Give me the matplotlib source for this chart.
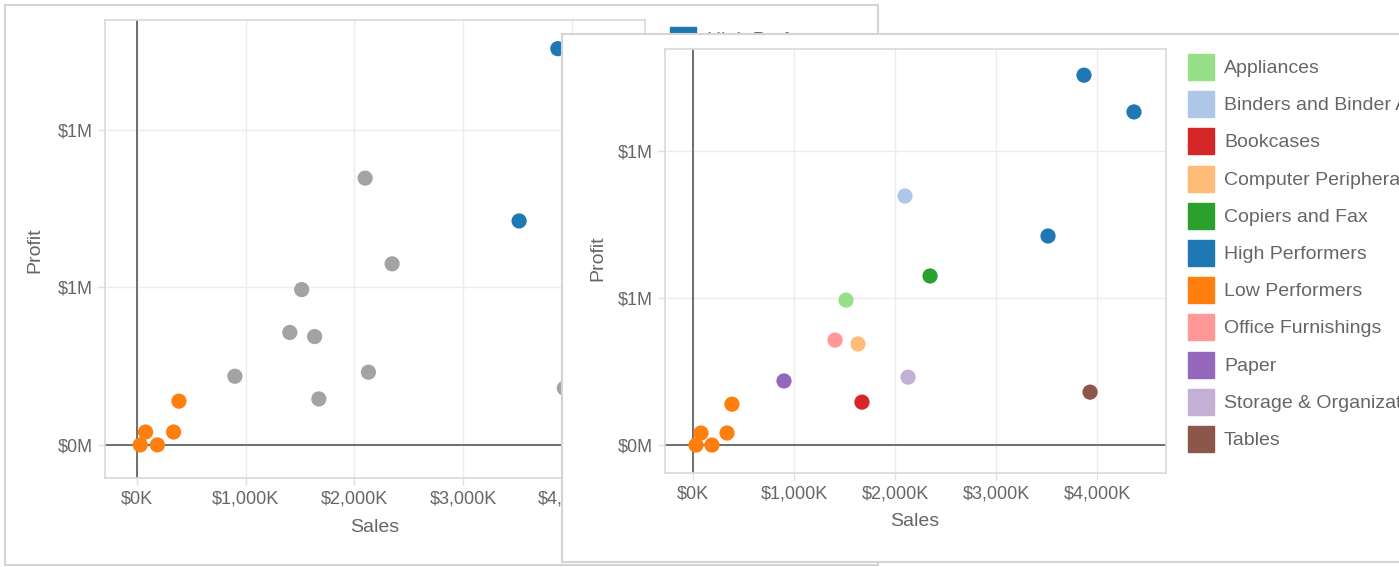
import matplotlib.pyplot as plt
from matplotlib.patches import Rectangle

# data (sales and profit in dollars)
categories = ['Appliances', 'Binders and Binder Accessories', 'Bookcases',
              'Computer Peripherals', 'Copiers and Fax', 'High Performers',
              'Low Performers', 'Office Furnishings', 'Paper',
              'Storage & Organization', 'Tables']
colors = ['#98df8a', '#aec7e8', '#d62728', '#ffbb78', '#2ca02c', '#1f77b4',
          '#ff7f0e', '#ff9896', '#9467bd', '#c5b0d5', '#8c564b']

point_group = ['High Performers', 'High Performers', 'High Performers',
               'Binders and Binder Accessories', 'Copiers and Fax', 'Appliances',
               'Office Furnishings', 'Computer Peripherals', 'Storage & Organization',
               'Paper', 'Bookcases', 'Tables',
               'Low Performers', 'Low Performers', 'Low Performers',
               'Low Performers', 'Low Performers']
sales = [3871e3, 4366e3, 3515e3,
         2099e3, 2347e3, 1515e3,
         1406e3, 1634e3, 2129e3,
         901e3, 1673e3, 3931e3,
         386e3, 337e3, 79e3, 30e3, 188e3]
profit = [1258e3, 1133e3, 711e3,
          847e3, 575e3, 493e3,
          357e3, 344e3, 231e3,
          218e3, 146e3, 180e3,
          139e3, 41e3, 41e3, 0, 0]

x_ticks = [0, 1e6, 2e6, 3e6, 4e6]
x_labels = ['$0K', '$1,000K', '$2,000K', '$3,000K', '$4,000K']
y_ticks = [0, 5e5, 1e6]
y_labels = ['$0M', '$1M', '$1M']

back_legend = ['High Performers', 'Low Performers']

W, H = 1399, 567
plt.rcParams['font.family'] = ['Liberation Sans', 'DejaVu Sans']
fig = plt.figure(figsize=(W / 100, H / 100), dpi=100)

TXT = '#666666'
color_of = dict(zip(categories, colors))


def box(x0, y0, x1, y1):
    # pixel box (top-left origin) -> figure fraction rect
    return [x0 / W, 1 - y1 / H, (x1 - x0) / W, (y1 - y0) / H]


def panel(rect, z):
    ax = fig.add_axes(rect, zorder=z)
    ax.set_xticks([])
    ax.set_yticks([])
    ax.set_facecolor('white')
    for s in ax.spines.values():
        s.set_color('#d4d4d4')
        s.set_linewidth(1.5)
    return ax


def scatter_panel(rect, z, xlim, ylim, pt_colors):
    ax = fig.add_axes(rect, zorder=z)
    ax.set_facecolor('white')
    ax.set_xlim(*xlim)
    ax.set_ylim(*ylim)
    ax.set_xticks(x_ticks)
    ax.set_xticklabels(x_labels)
    ax.set_yticks(y_ticks)
    ax.set_yticklabels(y_labels)
    ax.tick_params(colors='#e0e0e0', labelcolor=TXT, labelsize=13, length=5, width=1, pad=4)
    ax.grid(True, color='#ececec', linewidth=1)
    ax.set_axisbelow(True)
    for s in ax.spines.values():
        s.set_color('#d9d9d9')
        s.set_linewidth(1.2)
    ax.axhline(0, color='#6e6e6e', linewidth=1.4, zorder=1)
    ax.axvline(0, color='#6e6e6e', linewidth=1.4, zorder=1)
    ax.scatter(sales, profit, s=120, c=pt_colors, linewidths=0, zorder=3)
    return ax


# back panel: only high / low performers highlighted
back = panel(box(5, 5, 878, 565), 1)
back_colors = [color_of[g] if g in back_legend else '#a3a3a3' for g in point_group]
scatter_panel(box(105, 20, 645, 478), 2, (-294e3, 4673e3), (-105e3, 1349e3), back_colors)
fig.text(375 / W, 1 - 528 / H, 'Sales', ha='center', va='center', color=TXT, fontsize=14, zorder=3)
fig.text(35 / W, 1 - 250 / H, 'Profit', ha='center', va='center', color=TXT, fontsize=14,
         rotation=90, zorder=3)
leg_back = fig.add_axes([0, 0, 1, 1], zorder=3)
leg_back.axis('off')
leg_back.set_xlim(0, W)
leg_back.set_ylim(H, 0)
for i, name in enumerate(back_legend):
    yc = 40 + i * 37.2
    leg_back.add_patch(Rectangle((670, yc - 13), 26, 26, color=color_of[name]))
    leg_back.text(707, yc + 0.5, name, va='center', color=TXT, fontsize=14)

# front panel: every category coloured
front = panel(box(562, 34, 1420, 562), 4)
front_colors = [color_of[g] for g in point_group]
scatter_panel(box(665, 49, 1166, 473), 5, (-277e3, 4683e3), (-95e3, 1347e3), front_colors)
fig.text(915 / W, 1 - 521 / H, 'Sales', ha='center', va='center', color=TXT, fontsize=14, zorder=6)
fig.text(598 / W, 1 - 258 / H, 'Profit', ha='center', va='center', color=TXT, fontsize=14,
         rotation=90, zorder=6)
leg_front = fig.add_axes([0, 0, 1, 1], zorder=6)
leg_front.axis('off')
leg_front.set_xlim(0, W)
leg_front.set_ylim(H, 0)
for i, name in enumerate(categories):
    yc = 67 + i * 37.2
    leg_front.add_patch(Rectangle((1188, yc - 13), 26, 26, color=colors[i]))
    leg_front.text(1224, yc + 1.5, name, va='center', color=TXT, fontsize=14)

fig.savefig('out.png', dpi=100)
